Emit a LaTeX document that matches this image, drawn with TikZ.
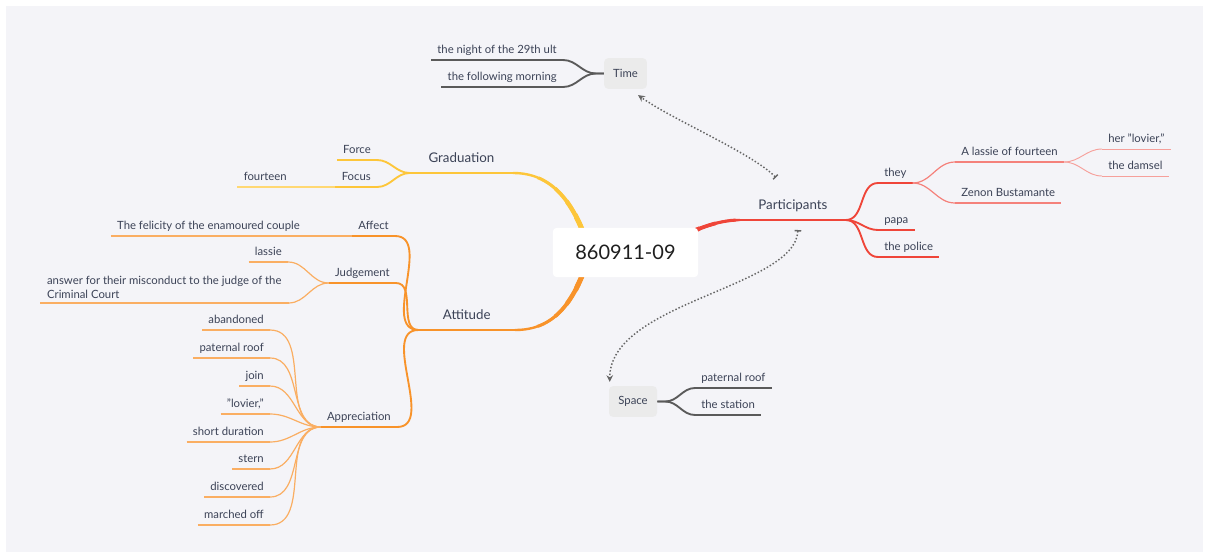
\documentclass[tikz,border=0pt]{standalone}
\usepackage{fontspec}
\setmainfont{Lato}
\usetikzlibrary{arrows.meta,backgrounds}
\definecolor{cBg}{HTML}{F4F4F8}
\definecolor{cInk}{HTML}{3B4256}
\definecolor{cYel}{HTML}{FDC63A}
\definecolor{cYelL}{HTML}{FFD873}
\definecolor{cOra}{HTML}{F8932A}
\definecolor{cOraL}{HTML}{FAAE62}
\definecolor{cRed}{HTML}{EF4539}
\definecolor{cRedL}{HTML}{F4817B}
\definecolor{cRedXL}{HTML}{F6A09B}
\definecolor{cGray}{HTML}{5A5A5A}
\definecolor{cBox}{HTML}{EBEBEB}
\definecolor{cRel}{HTML}{666666}
\tikzset{
  tpbase/.style = {font=\fontsize{8.5}{10.5}\selectfont, text=cInk, inner xsep=4.5pt,
                   inner ysep=3pt},
  tp/.style     = {tpbase, text height=6pt, text depth=1.8pt},
  mn/.style     = {tp, font=\fontsize{10}{12}\selectfont, text height=7pt, text depth=2pt,
                   inner ysep=6pt},
  root/.style   = {rectangle, rounded corners=3pt, fill=white, minimum width=109pt,
                   minimum height=37pt, font=\fontsize{15}{18}\selectfont, text=black!88},
  tag/.style    = {rectangle, rounded corners=3pt, fill=cBox, minimum height=23pt,
                   font=\fontsize{8.5}{10.5}\selectfont, text=cInk},
  lv1/.style    = {draw=#1, line width=1.8pt},
  lv2/.style    = {draw=#1, line width=1.4pt},
  lv3/.style    = {draw=#1, line width=0.9pt},
  lv4/.style    = {draw=#1, line width=0.7pt},
  rel/.style    = {draw=cRel, line width=1.1pt, dash pattern=on 1.1pt off 1.5pt,
                   {Bar[width=5pt]}-{Stealth[length=5pt,width=5pt]}},
}
% thick main branches from the centre out
\newcommand{\trunks}[1]{%
  \draw[cYel, line width=#1] (gr.south east) .. controls +(37,0) and +(-17,-62) .. ([shift={(-33,8)}]cen.center);
  \draw[cOra, line width=#1] (at.south east) .. controls +(37,0) and +(-17,62) .. ([shift={(-33,-8)}]cen.center);
  \draw[cRed, line width=#1] (pa.south west) .. controls +(-25,0) and +(25,-13) .. ([shift={(40,-8)}]cen.center);}

\begin{document}
\begin{tikzpicture}[x=0.75pt, y=-0.75pt]
  \useasboundingbox (0,0) rectangle (1207,557);
  \begin{scope}[on background layer]
    \fill[white] (0,0) rectangle (1207,557);
    \fill[cBg] (6,6) rectangle (1203,552);
  \end{scope}

  \node[root] (cen) at (625.5,252.5) {860911-09};

  \node[mn, anchor=south east, minimum width=77pt] (gr) at (513,173) {Graduation};
  \node[mn, anchor=south east, minimum width=72pt] (at) at (515,330) {Attitude};
  \node[mn, anchor=south west, minimum width=79pt] (pa) at (740,220) {Participants};

  \node[tag, minimum width=32pt] (tm) at (625.5,73.5) {Time};
  \node[tag, minimum width=36pt] (sp) at (633,401.5) {Space};
  \node[tp, anchor=south east] (night) at (563,60) {the night of the 29th ult};
  \node[tp, anchor=south east] (morn) at (563,87) {the following morning};
  \node[tp, anchor=south west] (roof) at (695,388) {paternal roof};
  \node[tp, anchor=south west] (stn) at (695,415) {the station};

  \node[tp, anchor=south east] (force) at (377,160) {Force};
  \node[tp, anchor=south east] (focus) at (377,187) {Focus};
  \node[tp, anchor=south east] (fourt) at (293,187) {fourteen};

  \node[tp, anchor=south east] (affect) at (395,236) {Affect};
  \node[tp, anchor=south east] (felic) at (306,236) {The felicity of the enamoured couple};
  \node[tp, anchor=south east] (judge) at (396,283) {Judgement};
  \node[tp, anchor=south east] (lassie) at (288,262) {lassie};
  \node[tpbase, anchor=south west, align=left, minimum width=186pt] (answer) at (40,303)
    {answer for their misconduct to the judge of the\\Criminal Court};
  \node[tp, anchor=south east] (appr) at (397,427) {Appreciation};
  \foreach \i/\y/\t in {1/330/abandoned, 2/358/paternal roof, 3/386/join, 4/414/{"lovier,"},
                        5/442/short duration, 6/469/stern, 7/497/discovered, 8/525/marched off}
    \node[tp, anchor=south east] (a\i) at (270,\y) {\t};

  \node[tp, anchor=south west] (they) at (878,183) {they};
  \node[tp, anchor=south west] (papa) at (878,230) {papa};
  \node[tp, anchor=south west] (police) at (878,257) {the police};
  \node[tp, anchor=south west] (girl) at (955,162) {A lassie of fourteen};
  \node[tp, anchor=south west] (zenon) at (955,203) {Zenon Bustamante};
  \node[tp, anchor=south west] (lovier) at (1102,149) {her "lovier,"};
  \node[tp, anchor=south west] (damsel) at (1102,176) {the damsel};

  \begin{scope}[on background layer]
    \trunks{1.8pt}
    \foreach \r/\w in {115/2.3pt, 95/2.8pt, 78/3.3pt, 62/3.8pt}{
      \begin{scope}
        \clip (cen.center) circle (\r);
        \trunks{\w}
      \end{scope}}
  \end{scope}

  % underlines
  \foreach \n/\c in {gr/cYel, at/cOra, pa/cRed}
    \draw[lv1=\c] (\n.south west) -- (\n.south east);
  \foreach \n/\c in {force/cYel, focus/cYel, affect/cOra, judge/cOra, appr/cOra, they/cRed,
                     papa/cRed, police/cRed, night/cGray, morn/cGray, roof/cGray, stn/cGray}
    \draw[lv2=\c] (\n.south west) -- (\n.south east);
  \foreach \n/\c in {fourt/cYelL, felic/cOraL, lassie/cOraL, answer/cOraL, a1/cOraL, a2/cOraL,
                     a3/cOraL, a4/cOraL, a5/cOraL, a6/cOraL, a7/cOraL, a8/cOraL,
                     girl/cRedL, zenon/cRedL}
    \draw[lv3=\c] (\n.south west) -- (\n.south east);
  \foreach \n in {lovier, damsel}
    \draw[lv4=cRedXL] (\n.south west) -- (\n.south east);

  % branches
  \foreach \n in {force, focus}
    \draw[lv2=cYel] (gr.south west) to[out=180,in=0] (\n.south east);
  \draw[lv3=cYelL] (focus.south west) -- (fourt.south east);
  \foreach \n in {affect, judge, appr}
    \draw[lv2=cOra] (at.south west) to[out=180,in=0] (\n.south east);
  \draw[lv3=cOraL] (affect.south west) -- (felic.south east);
  \foreach \n in {lassie, answer}
    \draw[lv3=cOraL] (judge.south west) to[out=180,in=0] (\n.south east);
  \foreach \i in {1,...,8}
    \draw[lv3=cOraL] (appr.south west) to[out=180,in=0] (a\i.south east);
  \foreach \n in {they, papa, police}
    \draw[lv2=cRed] (pa.south east) to[out=0,in=180] (\n.south west);
  \foreach \n in {girl, zenon}
    \draw[lv3=cRedL] (they.south east) to[out=0,in=180] (\n.south west);
  \foreach \n in {lovier, damsel}
    \draw[lv4=cRedXL] (girl.south east) to[out=0,in=180] (\n.south west);
  \foreach \n in {night, morn}
    \draw[lv2=cGray] (tm.west) -- ++(-8,0) to[out=180,in=0] (\n.south east);
  \foreach \n in {roof, stn}
    \draw[lv2=cGray] (sp.east) -- ++(8,0) to[out=0,in=180] (\n.south west);

  % relations
  \draw[rel] ([shift={(-17,-14)}]pa.north) .. controls +(-25,-25) and +(35,25) .. ([shift={(-9,6)}]tm.south east);
  \draw[rel] ([shift={(5,10)}]pa.south) .. controls +(-3,58) and +(0,-80) .. ([shift={(1,-4)}]sp.north west);
\end{tikzpicture}
\end{document}
